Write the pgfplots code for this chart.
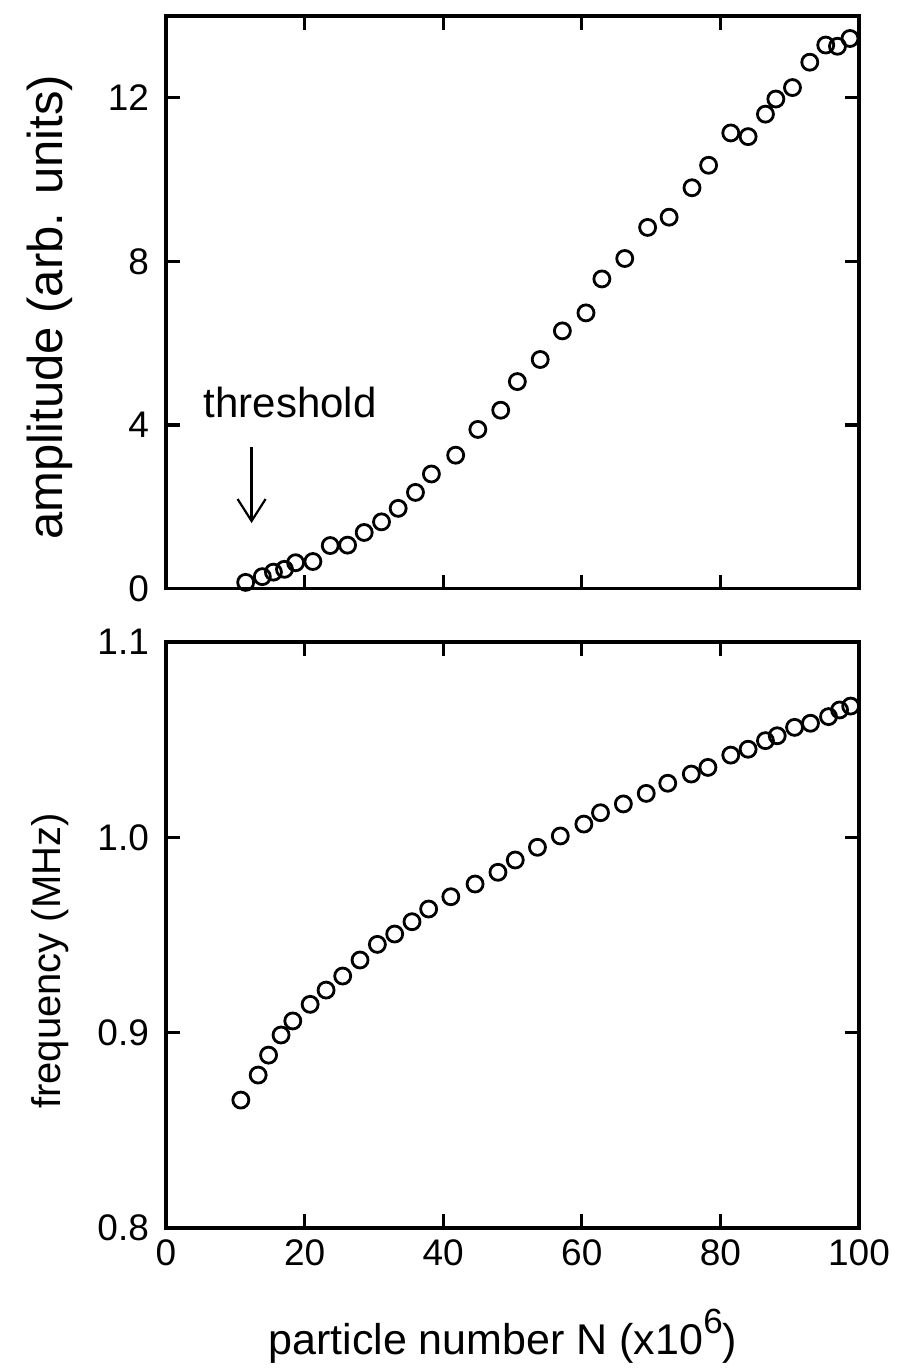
\documentclass[border=0pt]{standalone}
\usepackage{fontspec}
\setmainfont{Liberation Sans}
\usepackage{pgfplots}
\pgfplotsset{compat=1.18}
\usetikzlibrary{arrows.meta}
\pgfplotsset{
  mybase/.style={
    scale only axis, width=346.5pt,
    xmin=0, xmax=100,
    tick align=inside, major tick length=7pt,
    axis line style={line width=1.6pt},
    every tick/.style={line width=1.6pt, black},
    tick label style={font=\fontsize{18.5}{18.5}\selectfont},
    /pgf/number format/assume math mode=true,
    clip=false,
    yticklabel style={xshift=-5pt},
    xticklabel style={yshift=-2.5pt},
  },
  mymarks/.style={only marks, mark=o, mark size=4pt, line width=1.4pt, black},
}
\begin{document}
\begin{tikzpicture}
\useasboundingbox (-83pt,-391.75pt) rectangle (370pt,294.25pt);
\begin{axis}[mybase, name=top, at={(0,0)}, anchor=south west,
  height=286.25pt,
  ymin=0, ymax=14, ytick={0,4,8,12},
  xtick={20,40,60,80}, xticklabels={},
  ylabel={amplitude (arb. units)},
  ylabel style={font=\fontsize{24.5}{24.5}\selectfont, at={(axis description cs:-0.1674,0.4917)}, anchor=center},
]
\addplot[mymarks] coordinates {
(11.5,0.15) (13.9,0.29) (15.5,0.40) (17.1,0.47) (18.7,0.63) (21.2,0.66)
(23.7,1.05) (26.2,1.06) (28.6,1.37) (31.1,1.63) (33.5,1.96) (36.0,2.35)
(38.3,2.80) (41.8,3.26) (45.0,3.89) (48.3,4.36) (50.7,5.06) (54.0,5.60)
(57.2,6.30) (60.6,6.74) (62.9,7.57) (66.2,8.07) (69.5,8.83) (72.6,9.08)
(75.9,9.80) (78.3,10.35) (81.5,11.14) (84.0,11.05) (86.5,11.60) (88.0,11.97)
(90.4,12.25) (92.9,12.87) (95.2,13.29) (96.9,13.26) (98.7,13.45)
};
\node[anchor=base, font=\fontsize{21}{21}\selectfont] at (axis cs:17.9,4.17) {threshold};
\draw[-{Straight Barb[length=11pt,width=14pt]}, line width=1.1pt] (axis cs:12.35,3.46) -- (axis cs:12.35,1.60);
\end{axis}
\begin{axis}[mybase, name=bot, at={(top.south west)}, yshift=-26.75pt, anchor=north west,
  height=293pt,
  ymin=0.8, ymax=1.1, ytick={0.8,0.9,1.0,1.1}, yticklabels={0.8,0.9,1.0,1.1},
  xtick={0,20,40,60,80,100},
  ylabel={frequency (MHz)},
  ylabel style={font=\fontsize{20}{20}\selectfont, at={(axis description cs:-0.1674,0.4556)}, anchor=center},
  xlabel={particle number N (x10\raisebox{0.5em}{\fontsize{17.5}{17.5}\selectfont 6})},
  xlabel style={font=\fontsize{21.5}{21.5}\selectfont, at={(axis description cs:0.486,-0.2167)}, anchor=base},
]
\addplot[mymarks] coordinates {
(10.8,0.8655) (13.3,0.8783) (14.8,0.8885) (16.6,0.8988) (18.3,0.9060) (20.8,0.9145)
(23.1,0.9218) (25.5,0.9290) (28.0,0.9372) (30.5,0.9452) (33.0,0.9505) (35.5,0.9568)
(37.9,0.9633) (41.1,0.9696) (44.6,0.9761) (47.9,0.9821) (50.4,0.9884) (53.6,0.9949)
(56.9,1.0007) (60.3,1.0068) (62.7,1.0126) (66.0,1.0171) (69.3,1.0225) (72.4,1.0277)
(75.8,1.0324) (78.2,1.0358) (81.5,1.0421) (84.0,1.0451) (86.5,1.0495) (88.2,1.0520)
(90.7,1.0563) (93.0,1.0584) (95.6,1.0618) (97.2,1.0652) (98.8,1.0672)
};
\end{axis}
\end{tikzpicture}
\end{document}
